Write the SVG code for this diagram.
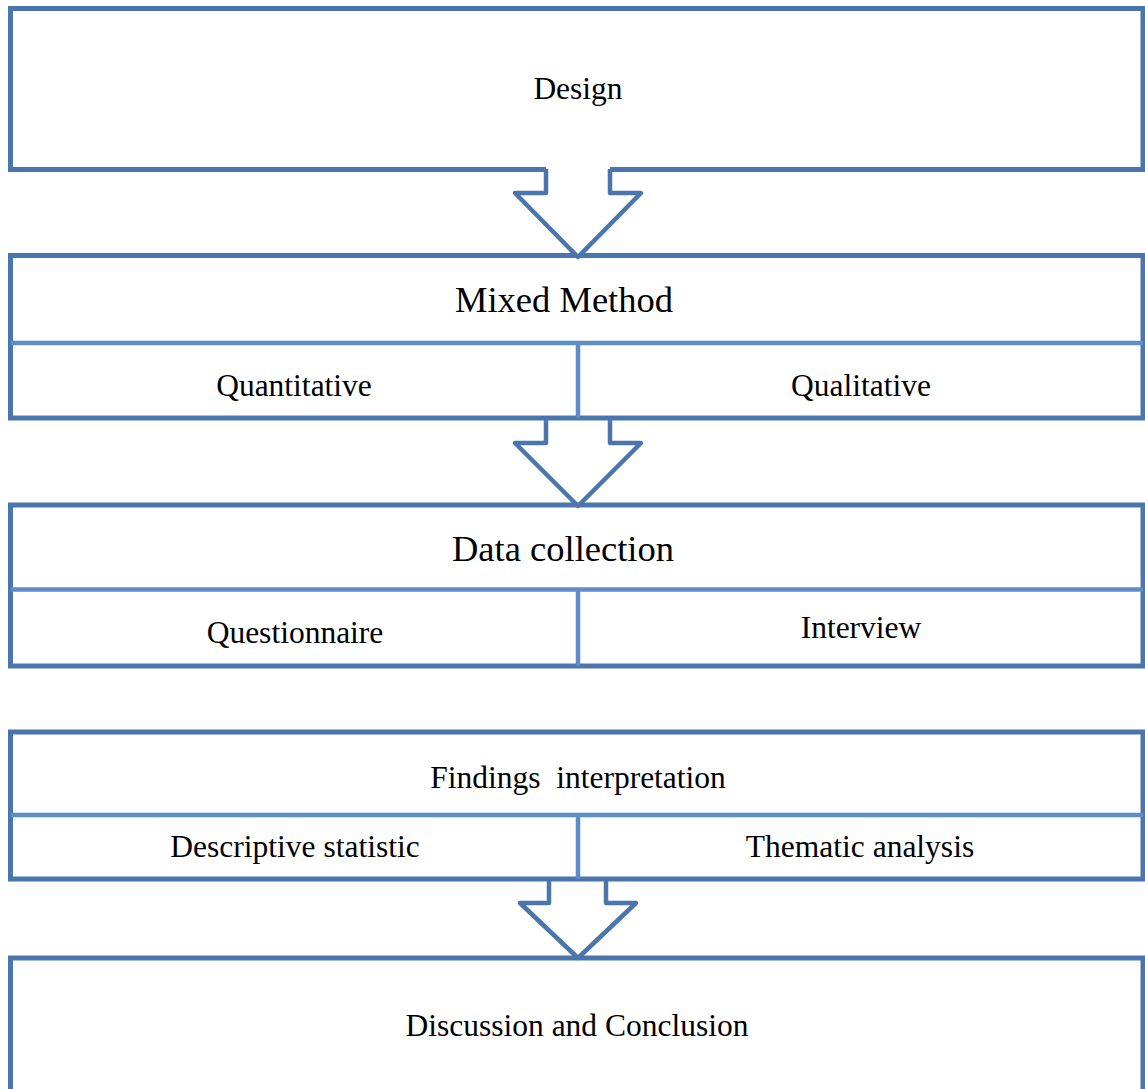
<svg xmlns="http://www.w3.org/2000/svg" width="1145" height="1089" viewBox="0 0 1145 1089">
<style>
.box{fill:#ffffff;stroke:#4a76ad;stroke-width:5}
.div{fill:none;stroke:#5d8cc6;stroke-width:4.5}
.fill{fill:#ffffff;stroke:none}
.line{fill:none;stroke:#4a76ad;stroke-width:4.5;stroke-linejoin:round}
text{font-family:"Liberation Serif","Times New Roman",serif;font-size:31.5px;fill:#000000;text-anchor:middle}
.big{font-size:36.5px}
</style>
<rect width="1145" height="1089" fill="#ffffff"/>
<g id="design">
<rect class="box" x="10.5" y="8.5" width="1132.5" height="161"/>
<text x="578" y="99">Design</text>
</g>
<g id="mixed-method">
<rect class="box" x="10.5" y="255.5" width="1132.5" height="162.5"/>
<path class="div" d="M10.5 343H1143M578 343V418"/>
<text class="big" x="564" y="312">Mixed Method</text>
<text x="294" y="396">Quantitative</text>
<text x="861" y="396">Qualitative</text>
</g>
<g id="data-collection">
<rect class="box" x="10.5" y="505" width="1132.5" height="161"/>
<path class="div" d="M10.5 589.5H1143M578 589.5V666"/>
<text class="big" x="563" y="561">Data collection</text>
<text x="295" y="643">Questionnaire</text>
<text x="861" y="638">Interview</text>
</g>
<g id="findings">
<rect class="box" x="10.5" y="732" width="1132.5" height="147"/>
<path class="div" d="M10.5 815H1143M578 815V879"/>
<text x="578" y="788" xml:space="preserve">Findings  interpretation</text>
<text x="295" y="857">Descriptive statistic</text>
<text x="860" y="857">Thematic analysis</text>
</g>
<g id="discussion">
<rect class="box" x="10.5" y="958" width="1132.5" height="160"/>
<text x="577" y="1036">Discussion and Conclusion</text>
</g>
<g id="connectors">
<polygon class="fill" points="546,166 610,166 610,193 641,193 578,257 515,193 546,193"/>
<polyline class="line" points="546,169 546,193 515,193 578,257 641,193 610,193 610,169"/>
<polyline class="line" points="546,418 546,443 515,443 578,506 641,443 610,443 610,418"/>
<polyline class="line" points="549,879 549,903 520,903 578,958 636,903 606,903 606,879"/>
</g>
</svg>
